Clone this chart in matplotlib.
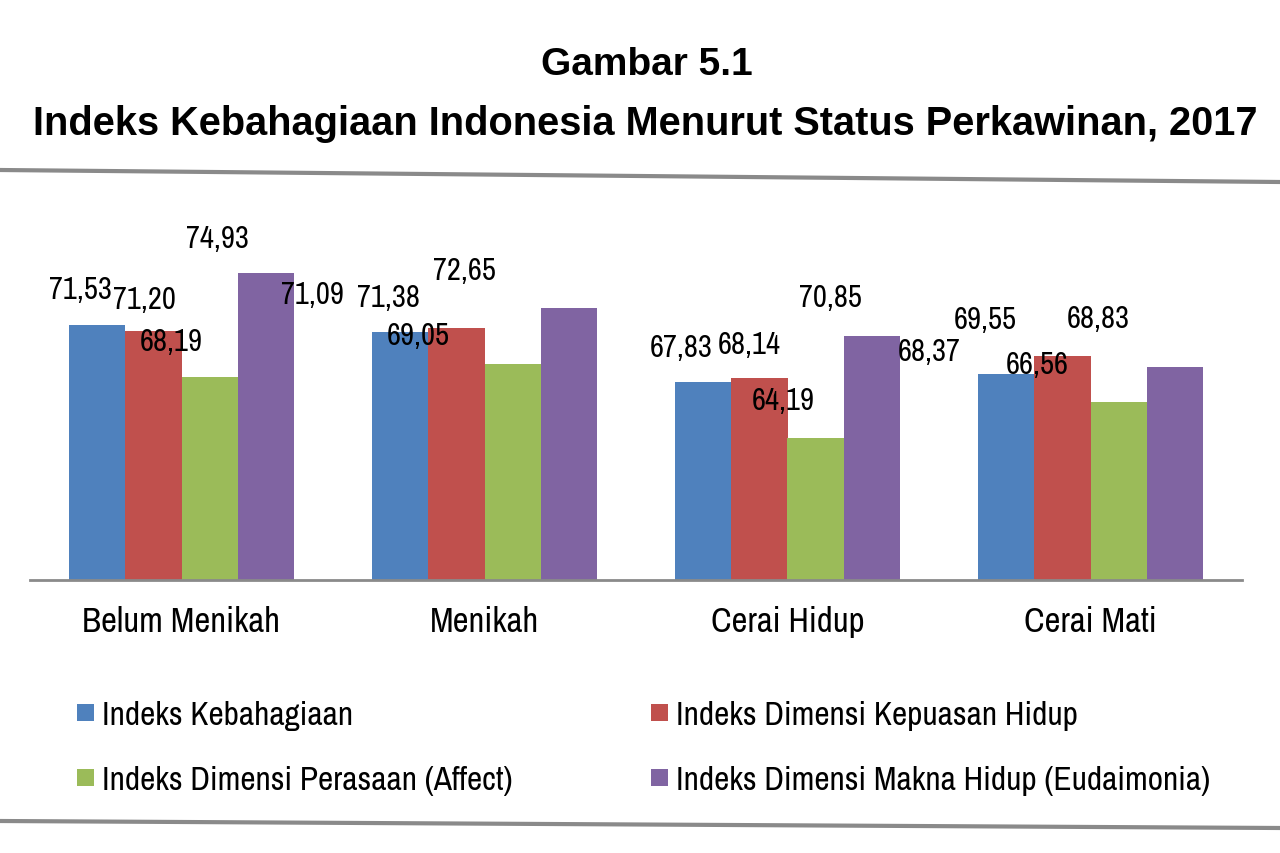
import numpy as np
import matplotlib.pyplot as plt
from matplotlib.lines import Line2D

categories = ["Belum Menikah", "Menikah", "Cerai Hidup", "Cerai Mati"]
series_names = ["Indeks Kebahagiaan",
                "Indeks Dimensi Kepuasan Hidup",
                "Indeks Dimensi Perasaan (Affect)",
                "Indeks Dimensi Makna Hidup (Eudaimonia)"]
kebahagiaan = [71.53, 71.09, 67.83, 68.37]
kepuasan = [71.20, 71.38, 68.14, 69.55]
perasaan = [68.19, 69.05, 64.19, 66.56]
makna = [74.93, 72.65, 70.85, 68.83]

colors = ["#4F81BD", "#C0504D", "#9BBB59", "#8064A2"]

# label nudges (pixels) to mimic the hand-placed labels of the original
label_dx = [[-17, -88, -22, -77],
            [-9, -68, -10, -77],
            [-38, -94, -32, -81],
            [-48, -104, -41, -76]]
label_dy = [[36, 38, 35, 23],
            [32, 31, 34, 37],
            [36, 29, 38, 38],
            [35, 38, 39, 49]]

narrow = ["Archivo Narrow", "PT Sans Narrow", "Liberation Sans", "DejaVu Sans"]
bold = ["Liberation Sans", "DejaVu Sans"]

W, H = 1280, 854
fig = plt.figure(figsize=(12.8, 8.54), dpi=100)
ax = fig.add_axes([30 / W, 1 - 581 / H, 1212 / W, (581 - 200) / H])

x = np.arange(len(categories))
w = 0.185
all_series = [kebahagiaan, kepuasan, perasaan, makna]
for i, vals in enumerate(all_series):
    xs = x + (i - 1.5) * w
    ax.bar(xs, vals, width=w, color=colors[i], label=series_names[i], zorder=2)
    for j, v in enumerate(vals):
        ax.annotate(f"{v:.2f}".replace(".", ","), (xs[j], v),
                    xytext=(label_dx[i][j], label_dy[i][j]),
                    textcoords="offset pixels", ha="center", va="center",
                    fontsize=22, family=narrow, color="black", zorder=3)

ax.set_xlim(-0.5, 3.5)
ax.set_ylim(55, 55 + 381 / 15.4)
ax.set_xticks(x)
ax.set_xticklabels(categories, family=narrow, fontsize=25)
ax.tick_params(axis="x", length=0, pad=18)
ax.set_yticks([])
for s in ["top", "right", "left"]:
    ax.spines[s].set_visible(False)
ax.spines["bottom"].set_color("#8a8a8a")
ax.spines["bottom"].set_linewidth(2)
ax.patch.set_alpha(0)

fig.text(647 / W, 1 - 65 / H, "Gambar 5.1", ha="center", va="center",
         fontsize=28, fontweight="bold", family=bold)
fig.text(645 / W, 1 - 124 / H,
         "Indeks Kebahagiaan Indonesia Menurut Status Perkawinan, 2017",
         ha="center", va="center", fontsize=28.6, fontweight="bold", family=bold)

# grey rules above and below the chart
fig.add_artist(Line2D([0, 1], [1 - 171 / H, 1 - 183 / H], transform=fig.transFigure,
                      color="#8a8a8a", lw=3))
fig.add_artist(Line2D([0, 1], [1 - 822 / H, 1 - 829 / H], transform=fig.transFigure,
                      color="#8a8a8a", lw=3))

handles, labels = ax.get_legend_handles_labels()
order = [0, 2, 1, 3]
fig.legend([handles[k] for k in order], [labels[k] for k in order],
           loc="upper left", bbox_to_anchor=(64 / W, 1 - 688 / H), ncol=2,
           frameon=False, handlelength=0.5, handleheight=0.42, handletextpad=0.25,
           columnspacing=4.15, labelspacing=1.05, borderaxespad=0,
           prop={"family": narrow, "size": 24})

fig.savefig("out.png", dpi=100)
